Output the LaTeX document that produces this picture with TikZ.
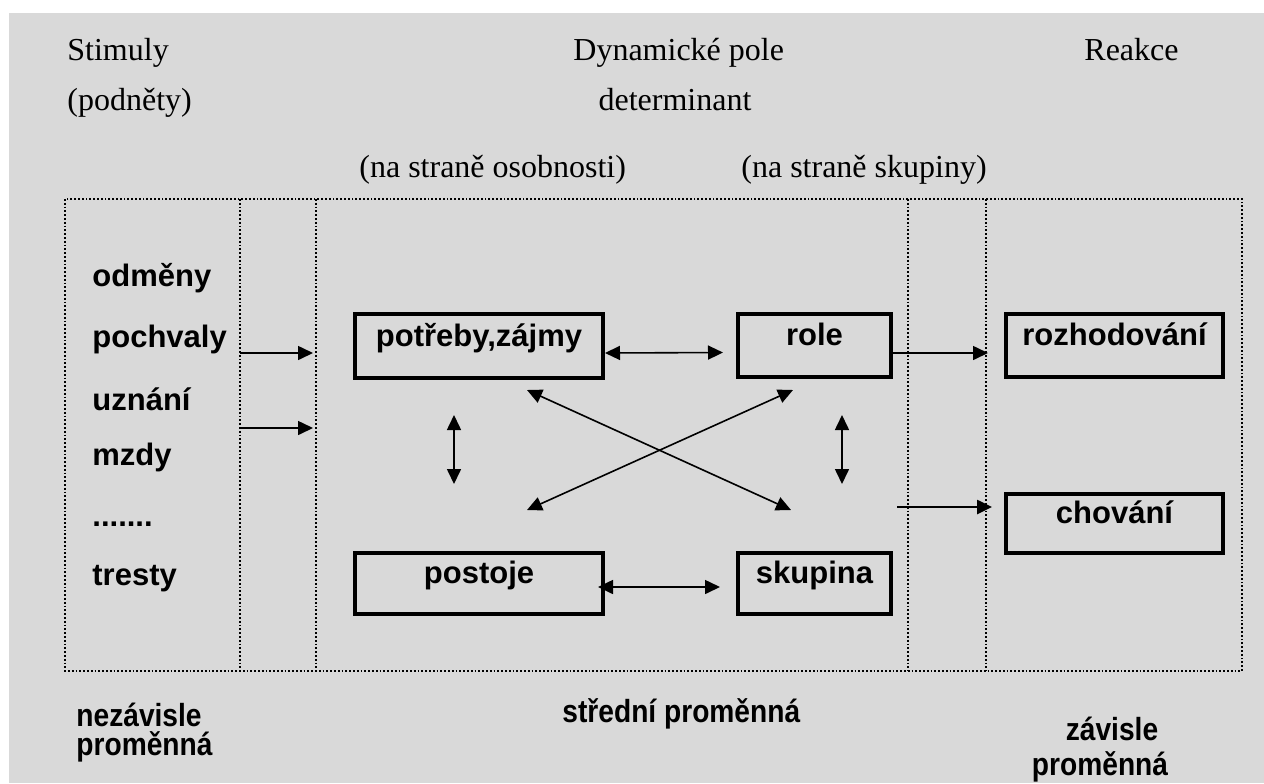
\documentclass[tikz,border=0pt]{standalone}
\usepackage{fontspec}
\setmainfont{Liberation Serif}
\setsansfont{Liberation Sans}
\newfontfamily\narrowsans[FakeStretch=0.88]{Liberation Sans}
\usetikzlibrary{arrows.meta,calc}
\definecolor{bggray}{RGB}{217,217,217}
\tikzset{
  frame/.style={densely dotted, line width=0.9pt},
  box/.style={draw, line width=2pt, inner sep=0pt, text height=8pt, text depth=8pt,
    font=\sffamily\bfseries\fontsize{15.5}{18}\selectfont},
  item/.style={anchor=base west, inner sep=0pt, font=\sffamily\bfseries\fontsize{15.5}{18}\selectfont},
  title/.style={anchor=base west, inner sep=0pt, font=\fontsize{16}{19}\selectfont},
  var/.style={anchor=base west, inner sep=0pt, font=\narrowsans\bfseries\fontsize{16}{19}\selectfont},
  link/.style={line width=0.8pt, >={Triangle[length=7.5pt,width=7pt]}}
}
\begin{document}
\begin{tikzpicture}[x=0.5pt, y=-0.5pt]
  \useasboundingbox (0,0) rectangle (1264,783);
  \fill[bggray] (9,13) rectangle (1264,783);

  % columns
  \draw[frame] (65,199) rectangle (1242,671);
  \draw[frame] (240,199) -- (240,671) (316,199) -- (316,671)
    (908,199) -- (908,671) (986,199) -- (986,671);

  % headings
  \node[title] (stimuly) at (67,60) {Stimuly};
  \node[title] (podnety) at (67,110) {(podněty)};
  \node[title] (pole) at (573,60) {Dynamické pole};
  \node[title, anchor=base] (determinant) at (675,110) {determinant};
  \node[title] (osobnost) at (359,177) {(na straně osobnosti)};
  \node[title] (skupiny) at (741,177) {(na straně skupiny)};
  \node[title] (reakce) at (1084,60) {Reakce};

  % stimuli
  \node[item] (odmeny) at (92,286) {odměny};
  \node[item] (pochvaly) at (92,347) {pochvaly};
  \node[item] (uznani) at (92,410) {uznání};
  \node[item] (mzdy) at (92,465) {mzdy};
  \node[item] (dots) at (92,526) {.......};
  \node[item] (tresty) at (92,585) {tresty};

  % determinants and reactions
  \node[box, minimum width=124pt, minimum height=32pt] (potreby) at (479,346) {potřeby,zájmy};
  \node[box, minimum width=76.5pt, minimum height=31.5pt] (role) at (814.5,345.5) {role};
  \node[box, minimum width=124pt, minimum height=30.5pt] (postoje) at (479,583.5) {postoje};
  \node[box, minimum width=76.5pt, minimum height=30.5pt] (skupina) at (814.5,583.5) {skupina};
  \node[box, minimum width=108.5pt, minimum height=31.5pt] (rozhodovani) at (1114.5,345.5) {rozhodování};
  \node[box, minimum width=108.5pt, minimum height=29.5pt] (chovani) at (1114.5,523.5) {chování};

  \node[var] (nezavisle) at (76,726) {nezávisle};
  \node[var] (nezprom) at (76,755) {proměnná};
  \node[var] (stredni) at (562,722) {střední proměnná};
  \node[var, anchor=base] (zavisle) at (1112,740) {závisle};
  \node[var, anchor=base] (zavprom) at (1100,775) {proměnná};

  \coordinate (in1) at (240,353);
  \coordinate (in1e) at (313,353);
  \coordinate (in2) at (240,428);
  \coordinate (in2e) at (313,428);
  \coordinate (vl1) at (454,415);
  \coordinate (vl2) at (454,484);
  \coordinate (vr1) at (842,415);
  \coordinate (vr2) at (842,484);
  \coordinate (d1) at (527,390);
  \coordinate (d2) at (791,510);
  \coordinate (d3) at (793,390);
  \coordinate (d4) at (527,510);
  \coordinate (out2) at (897,507);

  \draw[link, ->] (in1) -- (in1e);
  \draw[link, ->] (in2) -- (in2e);
  \draw[link, <->] ($(potreby.east)+(0,7)$) -- ($(role.west)+(-13,7)$);
  \draw[link, <->] ($(postoje.east)+(-7,3.5)$) -- ($(skupina.west)+(-16,3.5)$);
  \draw[link, <->] (vl1) -- (vl2);
  \draw[link, <->] (vr1) -- (vr2);
  \draw[link, <->] (d1) -- (d2);
  \draw[link, <->] (d3) -- (d4);
  \draw[link, ->] ($(role.east)+(0,7.5)$) -- ($(rozhodovani.west)+(-16,7.5)$);
  \draw[link, ->, line width=1.3pt] (out2) -- ($(chovani.west)+(-12,-16.5)$);
\end{tikzpicture}
\end{document}
